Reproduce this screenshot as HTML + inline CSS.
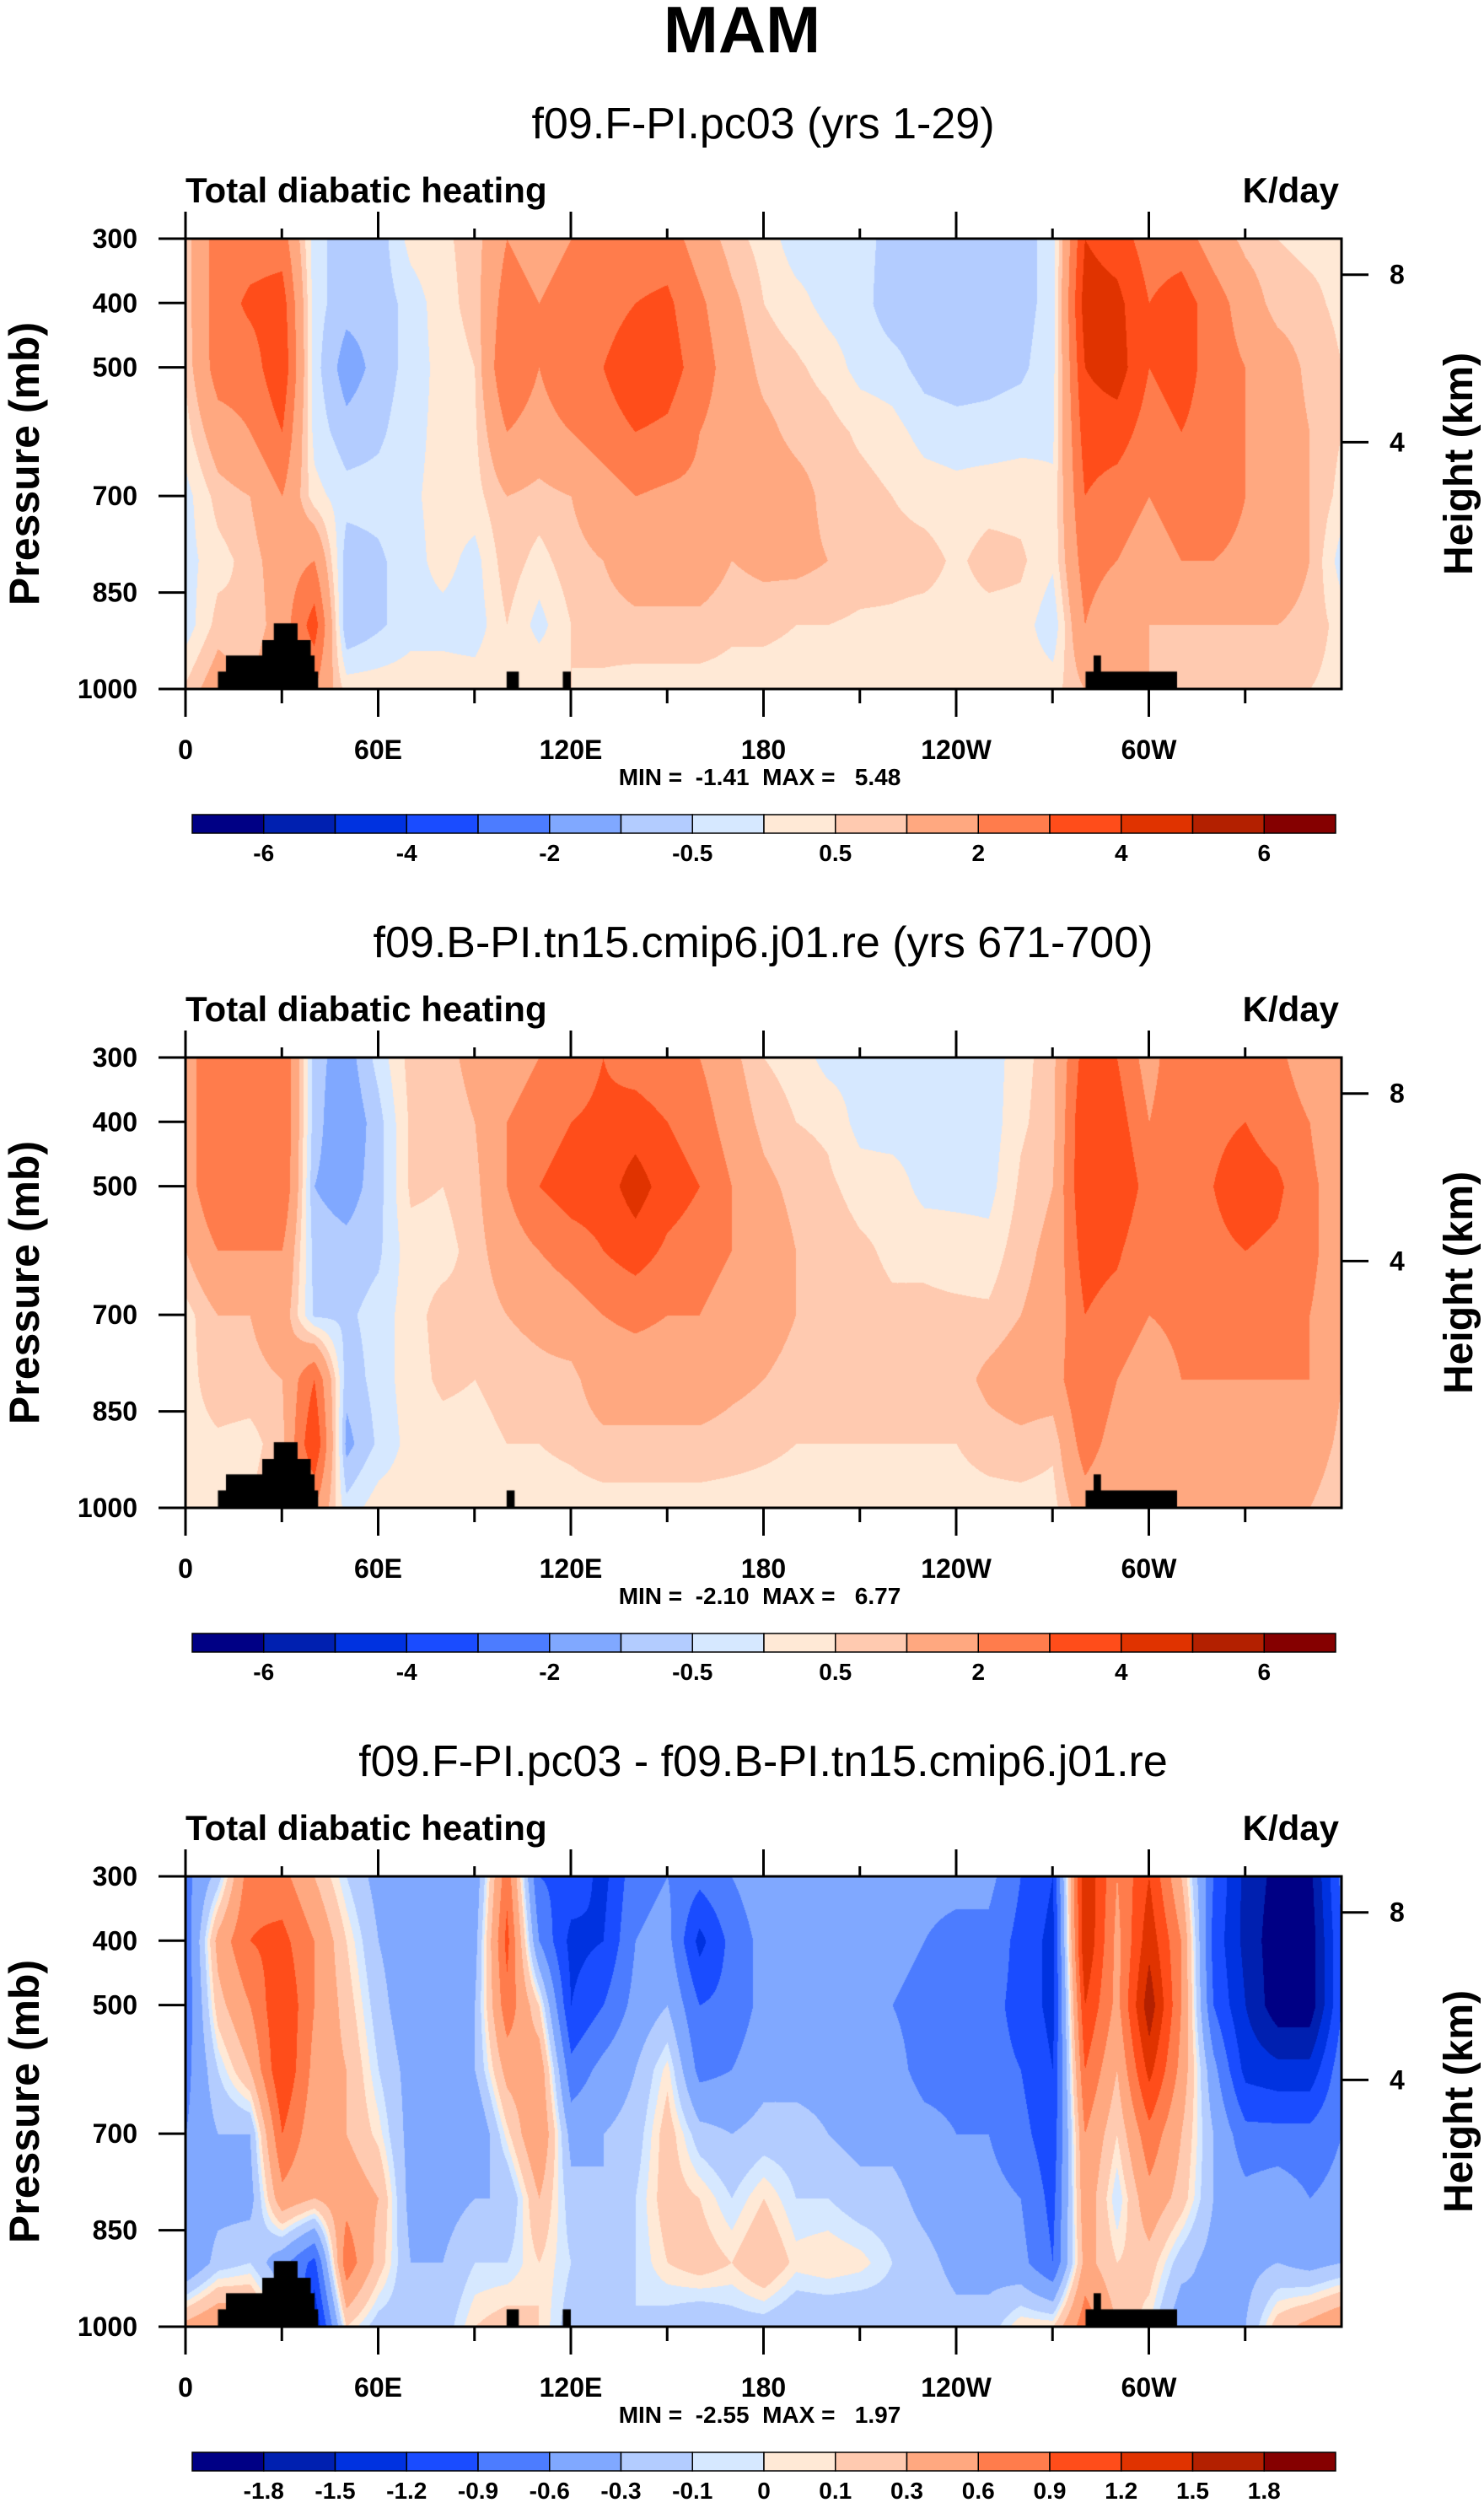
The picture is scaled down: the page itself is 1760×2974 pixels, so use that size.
<!DOCTYPE html>
<html><head><meta charset="utf-8"><style>
html,body{margin:0;padding:0;background:#fff;}
#root{position:relative;width:1760px;height:2974px;overflow:hidden;background:#fff;font-family:"Liberation Sans",sans-serif;}
canvas{position:absolute;}
svg{position:absolute;left:0;top:0;}
text{white-space:pre;}
</style></head><body>
<div id="root">
<canvas id="c0" width="1371" height="534" style="left:220px;top:283px"></canvas>
<canvas id="c1" width="1371" height="534" style="left:220px;top:1254px"></canvas>
<canvas id="c2" width="1371" height="534" style="left:220px;top:2225px"></canvas>
<svg id="ov" width="1760" height="2974"></svg>
</div>
<script>
// ---- data ----
const lons = [0,10,20,30,40,50,60,70,80,90,100,110,120,130,140,150,160,170,180,190,200,210,220,230,240,250,260,270,280,290,300,310,320,330,340,350,360];
const levels = [300,400,500,600,700,800,900,1000];
const field1 = [
[0.7,0.7,0.6,0.3,-0.2,-0.2,-0.3,0.6],[2.5,2.5,2.5,1.5,0.7,0.3,0.7,1.5],[2.5,3.2,2.5,2,1,0.7,0.5,1],[2.5,3.5,3.8,3,2,1.5,1.5,2],
[-0.3,-0.3,-0.3,-0.2,0.2,2,3.5,2],[-0.8,-0.8,-1.3,-0.8,-0.3,-0.8,-1,0.3],[-0.8,-0.8,-0.8,-0.6,-0.3,-0.6,-0.6,0.3],[0.2,-0.3,-0.3,-0.2,-0.1,-0.2,-0.2,0.3],
[0.4,0.3,0.2,0.2,0.2,0.2,-0.2,0.3],[0.7,0.7,0.5,0.4,0.3,-0.2,-0.3,0.3],[2,2.5,3,2,1,0.8,0.5,0.5],[1.5,2,2,1.5,0.8,0.3,-0.2,0.5],
[2,2.5,3,2,1,0.8,0.5,0.5],[2.5,2.5,3,2.5,1.5,1,0.7,0.4],[2.5,3,3.8,3,2,1.5,0.8,0.3],[2.5,3.2,3.5,2.8,1.8,1.5,0.8,0.3],
[1.5,2.2,2.5,2,1.8,1.5,0.8,0.3],[0.7,1.2,1.5,1.5,1.5,1,0.6,0.3],[0.3,0.5,0.8,1.2,1.5,1.2,0.6,0.3],[-0.3,0.2,0.6,0.8,1.3,1.2,0.5,0.3],
[-0.3,-0.2,0.3,0.7,0.8,1,0.5,0.3],[-0.3,-0.3,-0.2,0.4,0.7,0.8,0.4,0.3],[-0.7,-0.8,-0.3,0.2,0.5,0.7,0.4,0.3],[-0.8,-0.8,-0.7,-0.2,0.3,0.7,0.3,0.3],
[-0.8,-0.8,-0.8,-0.3,0.2,0.4,0.3,0.3],[-0.8,-0.8,-0.7,-0.3,0.3,0.7,0.3,0.3],[-0.7,-0.7,-0.6,-0.2,0.3,0.6,0.3,0.3],[-0.3,-0.3,-0.2,-0.1,0.1,0.1,-0.4,0.3],
[4,4.5,4,3.5,3,2.5,2,1],[3.5,4.3,4.5,3.5,2.5,2,1,1],[2.5,3,3,2.5,2,1.5,1,1],[2.5,3.5,3.5,3,2.5,2,1,0.8],
[1.5,2.5,2.5,2.5,2.5,2,1,0.7],[0.8,1.5,2,2,2,1.8,1,0.7],[0.5,0.7,1.5,1.5,1.5,1.5,1,0.6],[0.4,0.6,0.8,1,1,1,0.8,0.5],
[0.4,0.4,0.5,0.5,0.3,-0.3,0.3,0.3]];
const field2 = [
[1.5,1.5,1.5,1,0.3,0.3,0.3,0.3],[3,3,3,2,1,0.8,0.4,0.5],[2,2,2,2,1,0.8,0.3,0.5],[3,3,3,2,1.5,1,0.8,1],
[-0.8,-0.8,-1,-0.7,-0.6,3,4,2],[-1.3,-1.5,-1.3,-0.8,-0.6,-0.8,-1.2,-0.3],[-0.3,-0.7,-0.7,-0.6,-0.3,-0.3,-0.4,0.3],[0.7,0.6,0.6,0.3,0.3,0.3,0.2,0.3],
[0.8,0.7,0.5,0.3,0.7,0.6,0.3,0.3],[1.2,1,0.8,0.7,0.6,0.5,0.3,0.3],[1.5,2,2,1.5,1,0.7,0.5,0.5],[2,2.5,3,2,1.2,0.8,0.5,0.3],
[2.5,3,3.5,2.5,1.5,0.8,0.6,0.3],[3,3.2,3.5,3,2,1.5,0.8,0.3],[2.5,3.5,4.5,3.5,2.2,1.5,0.8,0.3],[2.2,3,3.5,2.8,2,1.5,0.8,0.3],
[2,2.5,3,2.5,2,1.5,0.8,0.3],[1.2,1.5,2,2,1.5,1.2,0.7,0.3],[0.5,0.8,1.2,1.5,1.3,1,0.6,0.3],[0.3,0.5,0.8,1,1,0.8,0.5,0.3],
[-0.2,0.4,0.6,0.8,0.8,0.8,0.5,0.3],[-0.2,-0.2,0.3,0.6,0.7,0.8,0.5,0.3],[-0.3,-0.3,0.3,0.4,0.6,0.7,0.5,0.3],[-0.3,-0.3,-0.2,0.4,0.6,0.7,0.5,0.3],
[-0.3,-0.3,-0.2,0.3,0.6,0.7,0.5,0.3],[-0.3,-0.3,-0.2,0.2,0.6,1.2,0.7,0.3],[0.3,0.4,0.6,0.8,1,1.5,0.8,0.3],[0.8,0.8,1,1.2,1.3,1.5,0.6,0.3],
[3.5,4,4,3.5,3,3,2.5,1.5],[3,3.5,4,3.2,2.5,2,1.5,1],[1.5,2,2.5,2,2,1.5,1,1],[3,3,3,2.5,2.2,2,1.5,1],
[2.5,2.8,3,2.8,2.5,2,1.5,1],[2.5,3,3.5,3,2.5,2,1.5,1],[2.2,2.5,3.2,2.8,2.5,2,1.5,1],[1.5,2,2.2,2.2,2,2,1.5,1],
[1,1.2,1.5,1.5,1.5,1,0.8,0.5]];
const field3 = [
[-0.7,-0.8,-0.8,-0.7,-0.6,-0.5,-0.6,0.4],[-0.2,0.4,0.2,-0.1,-0.3,-0.4,-0.2,0.6],[0.8,0.9,0.6,0.3,-0.3,-0.4,-0.1,0.5],[0.7,1.0,1.2,1.2,0.9,0.5,-0.5,0],
[0.3,0.6,0.6,0.5,0.4,0.3,-1,-1.5],[-0.1,0.1,0.2,0.3,0.3,0.5,0.8,0.1],[-0.4,-0.3,-0.2,-0.1,0.05,0.3,0.2,-0.2],[-0.4,-0.5,-0.5,-0.4,-0.4,-0.4,-0.3,-0.2],
[-0.3,-0.5,-0.5,-0.4,-0.4,-0.4,-0.3,-0.2],[-0.5,-0.4,-0.3,-0.3,-0.6,-0.3,-0.1,0.1],[0.8,1,0.8,0.4,0.05,-0.3,-0.1,0.2],[-0.9,-0.6,0.1,0.5,0.6,0.3,0.1,0.1],
[-1.0,-1.3,-1.2,-0.8,-0.4,-0.2,-0.1,-0.2],[-1.3,-1.2,-0.9,-0.5,-0.3,-0.3,-0.2,-0.1],[-0.7,-0.6,-0.5,-0.3,-0.2,-0.1,-0.1,-0.1],[-0.6,-0.5,-0.3,0.05,0.2,0.2,0.1,-0.2],
[-0.8,-1.3,-0.9,-0.7,-0.2,0.1,0.2,-0.3],[-0.6,-0.8,-0.8,-0.6,-0.3,-0.1,0.1,-0.2],[-0.4,-0.5,-0.5,-0.4,-0.2,0.1,0.3,-0.2],[-0.3,-0.4,-0.4,-0.4,-0.2,-0.1,0.05,-0.3],
[-0.3,-0.4,-0.5,-0.4,-0.3,-0.1,0.1,-0.3],[-0.3,-0.4,-0.5,-0.4,-0.4,-0.2,0.05,-0.3],[-0.4,-0.5,-0.6,-0.5,-0.4,-0.2,-0.1,-0.2],[-0.5,-0.6,-0.7,-0.7,-0.5,-0.4,-0.2,-0.1],
[-0.5,-0.7,-0.7,-0.7,-0.6,-0.5,-0.4,-0.2],[-0.5,-0.7,-0.8,-0.8,-0.6,-0.5,-0.4,-0.2],[-0.9,-1.0,-1.0,-0.9,-0.8,-0.6,-0.5,0.1],[-1.2,-1.3,-1.3,-1.2,-1.1,-1.0,-0.9,0.1],
[1.5,1.5,1.2,0.9,0.6,0.5,0.4,0.8],[0.6,0.5,0.5,0.3,0.1,-0.1,0.1,0.3],[1.2,1.4,1.7,1.3,0.8,0.5,0.2,0],[0.3,0.6,0.6,0.5,0.3,0.2,-0.2,-0.5],
[-0.9,-1,-0.9,-0.5,-0.3,-0.3,-0.4,-0.3],[-1.6,-1.6,-1.5,-1.3,-0.8,-0.5,-0.4,-0.3],[-1.9,-2,-2,-1.4,-0.8,-0.4,-0.3,0.2],[-1.9,-2,-2,-1.4,-0.8,-0.6,-0.4,0.4],
[-0.8,-0.9,-0.9,-0.7,-0.6,-0.5,-0.3,0.6]];
const levA = [-6,-5,-4,-3,-2,-1,-0.5,0,0.5,1,2,3,4,5,6];
const levB = [-1.8,-1.5,-1.2,-0.9,-0.6,-0.3,-0.1,0,0.1,0.3,0.6,0.9,1.2,1.5,1.8];
const labA = ["-6","","-4","","-2","","-0.5","","0.5","","2","","4","","6"];
const labB = ["-1.8","-1.5","-1.2","-0.9","-0.6","-0.3","-0.1","0","0.1","0.3","0.6","0.9","1.2","1.5","1.8"];
const colors = ["#000085","#0020b0","#0032e0","#1a4cff","#4c7cff","#80a8ff","#b3ccff","#d6e8ff","#ffe9d6","#ffcab0","#ffa880","#ff7c4c","#ff4d1a","#e03300","#b32000","#850000"];
// land mask: [lonW, lonE, pTop]
const maskA = [[10.1,41.3,973],[12.6,40.2,948],[23.9,39,924],[27.5,34.9,898],[100,103.8,973],[117.5,120,973],[280.3,308.8,973],[282.8,285.1,948]];
const maskB = [[10.1,41.3,973],[12.6,40.2,948],[23.9,39,924],[27.5,34.9,898],[100,102.5,973],[280.3,308.8,973],[282.8,285.1,948]];
const titles = ["f09.F-PI.pc03 (yrs 1-29)","f09.B-PI.tn15.cmip6.j01.re (yrs 671-700)","f09.F-PI.pc03 - f09.B-PI.tn15.cmip6.j01.re"];
const minmax = ["MIN =  -1.41  MAX =   5.48","MIN =  -2.10  MAX =   6.77","MIN =  -2.55  MAX =   1.97"];
const xTickVals = [0,60,120,180,240,300];
const xTickLabs = ["0","60E","120E","180","120W","60W"];
const pTicks = [300,400,500,700,850,1000];
const hTicks = [8,4];

// ---- geometry ----
const PL=220, PW=1371, PH=534, PT0=283, DY=971;
const xS = lon => PL + lon/360*PW;
const yS = (p,T) => T + (p-300)/700*PH;

const fields=[field1,field2,field3], levs=[levA,levA,levB], labs=[labA,labA,labB], masks=[maskA,maskB,maskA];

function val(f,lon,p){
  let i=Math.min(35,Math.floor(lon/10)); let fx=(lon-lons[i])/10;
  let j=0; while(j<levels.length-2 && p>levels[j+1]) j++;
  let fy=(p-levels[j])/(levels[j+1]-levels[j]);
  const a=f[i][j],b=f[i+1][j],c=f[i][j+1],d=f[i+1][j+1];
  return (a*(1-fx)+b*fx)*(1-fy)+(c*(1-fx)+d*fx)*fy;
}
function hex(h){return [parseInt(h.slice(1,3),16),parseInt(h.slice(3,5),16),parseInt(h.slice(5,7),16)];}
const rgb=colors.map(hex);
for(let k=0;k<3;k++){
  const cv=document.getElementById('c'+k), ctx=cv.getContext('2d');
  const img=ctx.createImageData(PW,PH), f=fields[k], L=levs[k];
  for(let y=0;y<PH;y++){
    const p=300+y/PH*700;
    for(let x=0;x<PW;x++){
      const lon=x/PW*360; const v=val(f,lon,p);
      let c=0; while(c<L.length && v>=L[c]) c++;
      const o=(y*PW+x)*4, col=rgb[c];
      img.data[o]=col[0];img.data[o+1]=col[1];img.data[o+2]=col[2];img.data[o+3]=255;
    }
  }
  ctx.putImageData(img,0,0);
  ctx.fillStyle="#000";
  masks[k].forEach(m=>{const x0=m[0]/360*PW,x1=m[1]/360*PW,y0=(m[2]-300)/700*PH;ctx.fillRect(x0,y0,x1-x0,PH-y0);});
}

// ---- overlay ----
const NS="http://www.w3.org/2000/svg", svg=document.getElementById('ov');
function el(tag,attrs,text){const e=document.createElementNS(NS,tag);for(const a in attrs)e.setAttribute(a,attrs[a]);if(text!==undefined)e.textContent=text;svg.appendChild(e);return e;}
let t=el('text',{x:880,y:62,'font-size':78,'font-weight':'bold','text-anchor':'middle','font-family':'Liberation Sans, sans-serif'},'MAM');


function hToP(h){return 1013.25*Math.pow(1-2.25577e-5*h*1000,5.25588);}
for(let k=0;k<3;k++){
  const T=PT0+k*DY, B=T+PH, R=PL+PW;
  t=el('text',{x:905,y:T-119,'font-size':52,'text-anchor':'middle','font-family':'Liberation Sans, sans-serif'},titles[k]);
  
  
  t=el('text',{x:PL,y:T-43,'font-size':42,'font-weight':'bold','font-family':'Liberation Sans, sans-serif'},'Total diabatic heating');
  
  
  t=el('text',{x:R-3,y:T-43,'font-size':42,'font-weight':'bold','text-anchor':'end','font-family':'Liberation Sans, sans-serif'},'K/day');
  
  
  let r=el('rect',{x:PL,y:T,width:PW,height:PH,fill:'none',stroke:'#000','stroke-width':3});
  
  
  for(let lon=0;lon<=330;lon+=30){
    const major=lon%60===0, x=xS(lon);
    let l=el('line',{x1:x,x2:x,y1:T,y2:T-(major?32:12),stroke:'#000','stroke-width':3});
    
    
    l=el('line',{x1:x,x2:x,y1:B,y2:B+(major?33:17),stroke:'#000','stroke-width':3});
    
    
  }
  xTickVals.forEach((v,i)=>{
    const tt=el('text',{x:xS(v),y:T+617,'font-size':32,'font-weight':'bold','text-anchor':'middle','font-family':'Liberation Sans, sans-serif'},xTickLabs[i]);
    
    
  });
  pTicks.forEach(p=>{
    const y=yS(p,T);
    let l=el('line',{x1:PL-32,x2:PL,y1:y,y2:y,stroke:'#000','stroke-width':3});
    
    
    const tt=el('text',{x:163,y:y+11,'font-size':32,'font-weight':'bold','text-anchor':'end','font-family':'Liberation Sans, sans-serif'},String(p));
    
    
  });
  hTicks.forEach(h=>{
    const y=yS(hToP(h),T);
    let l=el('line',{x1:R,x2:R+32,y1:y,y2:y,stroke:'#000','stroke-width':3});
    
    
    const tt=el('text',{x:1648,y:y+11,'font-size':32,'font-weight':'bold','font-family':'Liberation Sans, sans-serif'},String(h));
    
    
  });
  t=el('text',{x:0,y:0,'font-size':50,'font-weight':'bold','text-anchor':'middle','font-family':'Liberation Sans, sans-serif',transform:`translate(46,${T+267}) rotate(-90)`},'Pressure (mb)');
  
  
  t=el('text',{x:0,y:0,'font-size':48,'font-weight':'bold','text-anchor':'middle','font-family':'Liberation Sans, sans-serif',transform:`translate(1746,${T+267}) rotate(-90)`},'Height (km)');
  
  
  t=el('text',{x:901,y:T+648,'font-size':28,'font-weight':'bold','text-anchor':'middle','font-family':'Liberation Sans, sans-serif'},minmax[k]);
  
  
  const CX=228, CW=1356, cy=T+683, ch=22, bw=CW/16;
  colors.forEach((c,i)=>{
    const rr=el('rect',{x:CX+i*bw,y:cy,width:bw,height:ch,fill:c,stroke:'#000','stroke-width':1.5});
    
    
  });
  labs[k].forEach((s,i)=>{
    if(!s) return;
    const tt=el('text',{x:CX+(i+1)*bw,y:T+738,'font-size':28,'font-weight':'bold','text-anchor':'middle','font-family':'Liberation Sans, sans-serif'},s);
    
    
  });
}
</script>
</body></html>
